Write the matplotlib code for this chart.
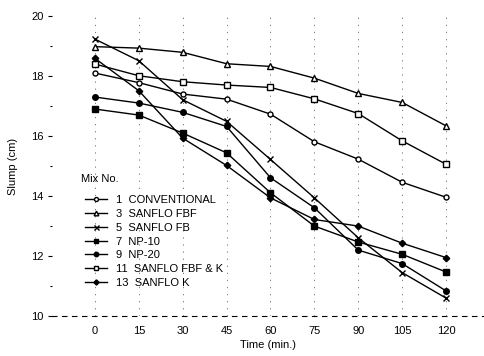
import matplotlib
matplotlib.use("Agg")
import matplotlib.pyplot as plt
from matplotlib.ticker import MultipleLocator

plt.rcParams['font.family'] = ['Liberation Sans', 'DejaVu Sans']
plt.rcParams['font.size'] = 8

# slump loss readings, cm, at each elapsed time
time_min = [0, 15, 30, 45, 60, 75, 90, 105, 120]

mix_1 = [18.10, 17.78, 17.40, 17.23, 16.73, 15.81, 15.23, 14.46, 13.96]
mix_3 = [18.98, 18.93, 18.79, 18.41, 18.32, 17.93, 17.42, 17.12, 16.34]
mix_5 = [19.23, 18.51, 17.21, 16.49, 15.22, 13.94, 12.61, 11.45, 10.60]
mix_7 = [16.90, 16.70, 16.10, 15.44, 14.11, 13.00, 12.47, 12.06, 11.47]
mix_9 = [17.30, 17.10, 16.79, 16.32, 14.61, 13.61, 12.20, 11.75, 10.84]
mix_11 = [18.40, 18.01, 17.81, 17.70, 17.62, 17.24, 16.75, 15.84, 15.06]
mix_13 = [18.59, 17.51, 15.93, 15.02, 13.94, 13.22, 13.00, 12.43, 11.95]

mix_labels = ["1  CONVENTIONAL", "3  SANFLO FBF", "5  SANFLO FB",
              "7  NP-10", "9  NP-20", "11  SANFLO FBF & K", "13  SANFLO K"]

series = [mix_1, mix_3, mix_5, mix_7, mix_9, mix_11, mix_13]
markers = [
    dict(marker="o", ms=3.6, mfc="white"),
    dict(marker="^", ms=4.2, mfc="white"),
    dict(marker="x", ms=4.5, mew=1.0),
    dict(marker="s", ms=4.3, mfc="black"),
    dict(marker="o", ms=4.0, mfc="black"),
    dict(marker="s", ms=4.3, mfc="white"),
    dict(marker="D", ms=3.3, mfc="black"),
]

fig = plt.figure(figsize=(4.85, 3.56), dpi=100)
ax = fig.add_axes([0.107, 0.112, 0.893, 0.843])

for vals, lab, mk in zip(series, mix_labels, markers):
    ax.plot(time_min, vals, color="black", lw=1.0, mec="black", label=lab, **mk)

ax.set_xlim(-14.7, 133.3)
ax.set_ylim(10, 20)
ax.set_xticks(time_min)
ax.yaxis.set_major_locator(MultipleLocator(2))
ax.yaxis.set_minor_locator(MultipleLocator(1))

# sparse dotted verticals at each reading time
ax.grid(axis="x", color="black", lw=0.6, linestyle=(0, (1.5, 7)), alpha=0.6)

for side in ("top", "right", "left"):
    ax.spines[side].set_visible(False)
ax.spines["bottom"].set_linestyle((0, (4, 5)))
ax.spines["bottom"].set_linewidth(0.8)

ax.tick_params(axis="x", length=0, pad=7, labelsize=8)
ax.tick_params(axis="y", which="major", length=3, width=0.8, pad=3, labelsize=8)
ax.tick_params(axis="y", which="minor", length=1.5, width=0.8)

ax.set_xlabel("Time (min.)", labelpad=3)
ax.set_ylabel("Slump (cm)")
ax.yaxis.set_label_coords(-0.079, 0.5)

ax.text(0.067, 0.457, "Mix No.", transform=ax.transAxes, va="center", ha="left")
ax.legend(loc="upper left", bbox_to_anchor=(0.076, 0.403), frameon=False,
          fontsize=8, handlelength=2.0, handletextpad=0.8, labelspacing=0.34,
          borderaxespad=0, borderpad=0, markerscale=0.8)

fig.savefig("out.png", dpi=100)
